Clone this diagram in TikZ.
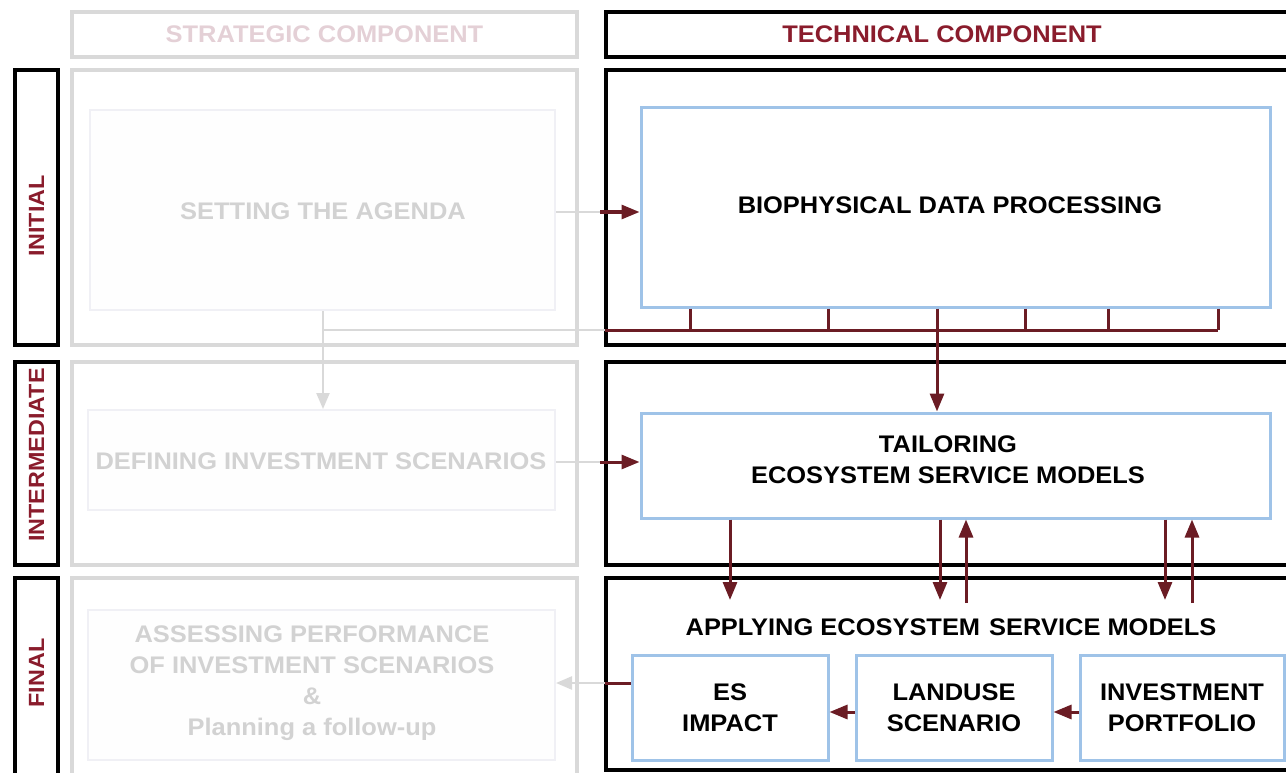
\documentclass[tikz,border=0pt]{standalone}
\usepackage{fontspec}
\setmainfont{Liberation Sans}[FakeStretch=1.06]
\usetikzlibrary{arrows.meta}
\definecolor{maroon}{HTML}{6B1C24}
\definecolor{headred}{HTML}{8A1C2C}
\definecolor{boxblue}{HTML}{9FC3E8}
\definecolor{framegrey}{HTML}{D9D9D9}
\definecolor{fadegrey}{HTML}{D2D2D2}
\definecolor{fadepink}{HTML}{E4D0D6}
\definecolor{innergrey}{HTML}{F0F0F5}
\tikzset{
  frameblack/.style={draw=black, line width=3.6pt, fill=white},
  framelight/.style={draw=framegrey, line width=3.6pt},
  innerbox/.style={draw=innergrey, line width=2pt, fill=white!99!gray},
  bluebox/.style={draw=boxblue, line width=3pt, fill=white, align=center,
    font=\fontsize{24}{31}\selectfont\bfseries},
  fadetext/.style={text=fadegrey, align=center, font=\fontsize{24}{31}\selectfont\bfseries},
  phaselabel/.style={draw=black, line width=3.6pt},
  phasetext/.style={text=headred, font=\fontsize{22}{24}\selectfont\bfseries, rotate=90},
  redarrow/.style={draw=maroon, line width=3pt, -{Triangle[length=18pt,width=14pt]}},
  redline/.style={draw=maroon, line width=3pt},
  greyline/.style={draw=framegrey, line width=2.4pt},
  greyarrow/.style={draw=framegrey, line width=2.4pt, -{Triangle[length=16pt,width=13pt]}},
}
\begin{document}
\begin{tikzpicture}[x=1pt, y=-1pt]
\clip (0,0) rectangle (1286,773);
\fill[white] (0,0) rectangle (1286,773);

% column headers
\node[framelight, minimum width=505pt, minimum height=45pt, text=fadepink,
      font=\fontsize{24}{26}\selectfont\bfseries] (strhead) at (324.5,34.5) {STRATEGIC COMPONENT};
\node[frameblack, minimum width=694pt, minimum height=45pt] (techhead) at (953,34.5) {};
\node[text=headred, font=\fontsize{24}{26}\selectfont\bfseries] (techtitle) at (942,34.5) {TECHNICAL COMPONENT};

% phase labels
\node[phaselabel, minimum width=43pt, minimum height=275pt] (lab1) at (36.5,207.5) {};
\node[phasetext] (lab1t) at (36.5,216) {INITIAL};
\node[phaselabel, minimum width=43pt, minimum height=203pt] (lab2) at (36.5,463.5) {};
\node[phasetext] (lab2t) at (36.5,455) {INTERMEDIATE};
\node[phaselabel, minimum width=43pt, minimum height=212pt] (lab3) at (36.5,684) {};
\node[phasetext] (lab3t) at (36.5,673) {FINAL};

% strategic column frames
\node[framelight, minimum width=505pt, minimum height=275pt] (str1) at (324.5,207.5) {};
\node[framelight, minimum width=505pt, minimum height=203pt] (str2) at (324.5,463.5) {};
\node[framelight, minimum width=505pt, minimum height=212pt] (str3) at (324.5,684) {};

% technical column frames
\node[frameblack, minimum width=694pt, minimum height=275pt] (tech1) at (953,207.5) {};
\node[frameblack, minimum width=694pt, minimum height=203pt] (tech2) at (953,463.5) {};
\node[frameblack, minimum width=694pt, minimum height=192pt] (tech3) at (953,674) {};

% strategic steps
\node[innerbox, minimum width=465pt, minimum height=200pt] (agenda) at (322.5,210) {};
\node[fadetext] (agendat) at (323,211) {SETTING THE AGENDA};
\node[innerbox, minimum width=467pt, minimum height=100pt] (defining) at (321.5,460) {};
\node[fadetext] (definingt) at (321,461) {DEFINING INVESTMENT SCENARIOS};
\node[innerbox, minimum width=467pt, minimum height=150pt] (assessing) at (321.5,685) {};
\node[fadetext] (assessingt) at (312,683) {ASSESSING PERFORMANCE\\OF INVESTMENT SCENARIOS\\\&\\Planning a follow-up};

% technical steps
\node[bluebox, minimum width=629pt, minimum height=199pt] (bio) at (955.5,207.5) {};
\node[font=\fontsize{24}{31}\selectfont\bfseries] (biot) at (950,205) {BIOPHYSICAL DATA PROCESSING};
\node[bluebox, minimum width=629pt, minimum height=105pt] (tail) at (955.5,465.5) {};
\node[align=center, font=\fontsize{24}{31}\selectfont\bfseries] (tailt) at (948,460) {TAILORING\\ECOSYSTEM SERVICE MODELS};
\node[text=black, font=\fontsize{24}{26}\selectfont\bfseries] (apply) at (951,627) {APPLYING ECOSYSTEM\hspace{2pt} SERVICE MODELS};
\node[bluebox, minimum width=196pt, minimum height=105pt] (es) at (730,707.5) {ES\\IMPACT};
\node[bluebox, minimum width=196pt, minimum height=105pt] (land) at (954,707.5) {LANDUSE\\SCENARIO};
\node[bluebox, minimum width=204pt, minimum height=105pt] (inv) at (1182,707.5) {INVESTMENT\\PORTFOLIO};

% junction points on the column boundary
\coordinate (ja) at (600,212);
\coordinate (jb) at (600,462);
\coordinate (jc) at (605,683);
\coordinate (busL) at (605,330);
\coordinate (busR) at (1218,330);
\coordinate (busG) at (323,330);

% strategic to technical links
\draw[greyline] (agenda.east |- ja) -- (ja);
\draw[redarrow] (ja) -- (bio.west |- ja);
\draw[greyline] (defining.east |- jb) -- (jb);
\draw[redarrow] (jb) -- (tail.west |- jb);
\draw[redline] (es.west |- jc) -- (jc);
\draw[greyarrow] (jc) -- (assessing.east |- jc);

% data bus below biophysical processing
\draw[greyline] (busL) -- (busG);
\draw[greyarrow] (agenda.south -| busG) -- (defining.north -| busG);
\draw[redline] (busL) -- (busR);
\foreach \x in {690,828,1025,1108,1218}
  \draw[redline] (bio.south -| \x,0) -- (\x,330);
\draw[redarrow] (bio.south -| 937,0) -- (tail.north -| 937,0);

% tailoring <-> applying
\coordinate (d1) at (730,600);
\coordinate (d2) at (940,600);
\coordinate (u2) at (966,603);
\coordinate (d3) at (1165,600);
\coordinate (u3) at (1192,603);
\draw[redarrow] (tail.south -| d1) -- (d1);
\draw[redarrow] (tail.south -| d2) -- (d2);
\draw[redarrow] (u2) -- (tail.south -| u2);
\draw[redarrow] (tail.south -| d3) -- (d3);
\draw[redarrow] (u3) -- (tail.south -| u3);

% applying chain
\draw[redarrow] (inv.west |- 0,712) -- (land.east |- 0,712);
\draw[redarrow] (land.west |- 0,712) -- (es.east |- 0,712);
\end{tikzpicture}
\end{document}
